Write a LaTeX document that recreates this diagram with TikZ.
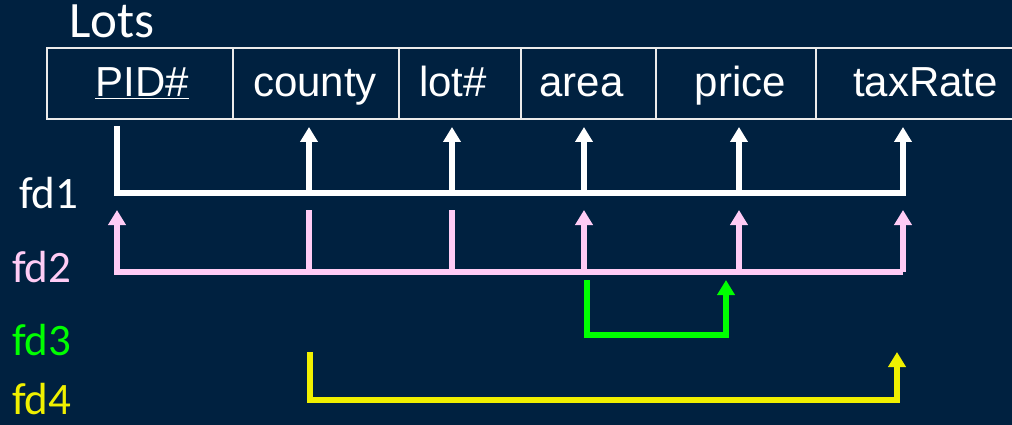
\documentclass[tikz,border=0pt]{standalone}
\usepackage{fontspec}
\setmainfont{Liberation Sans}
\newfontfamily\calfont{Carlito}
\usetikzlibrary{arrows.meta}
\definecolor{bg}{RGB}{0,33,64}
\definecolor{fdpink}{RGB}{255,204,245}
\definecolor{fdgreen}{RGB}{0,255,0}
\definecolor{fdyellow}{RGB}{240,240,0}
\begin{document}
\begin{tikzpicture}[x=1pt,y=-1pt,
  attr/.style={text=white,font=\fontsize{42}{42}\selectfont,anchor=base,inner sep=0pt},
  fdlabel/.style={font=\calfont\fontsize{45}{45}\selectfont,anchor=base west,inner sep=0pt},
  tblline/.style={draw=white!92!black,line width=2pt},
  fdline/.style={line width=5.5pt,line join=miter},
  fdarrow/.style={fdline,-{Triangle[width=17pt,length=15pt]}},
]
\useasboundingbox (0,0) rectangle (1012,425);
\clip (0,0) rectangle (1012,425);
\fill[bg] (0,0) rectangle (1012,425);

% title
\node[font=\calfont\fontsize{51}{51}\selectfont,text=white,anchor=base west,inner sep=0pt] (title) at (69,38) {Lots};

% table
\draw[tblline] (1016,48) -- (47,48) -- (47,119) -- (1016,119);
\foreach \x in {233,399,521,656,816} \draw[tblline] (\x,48) -- (\x,119);

% attributes
\node[attr] (pid) at (142,97) {\underline{PID\#}};
\node[attr] (county) at (315,97) {county};
\node[attr] (lot) at (453,97) {lot\#};
\node[attr] (area) at (581.5,97) {area};
\node[attr] (price) at (740.5,97) {price};
\node[attr] (tax) at (925.5,97) {taxRate};

% fd labels
\node[fdlabel,text=white] (l1) at (19,208) {fd1};
\node[fdlabel,text=fdpink] (l2) at (12,282) {fd2};
\node[fdlabel,text=fdgreen] (l3) at (12,355) {fd3};
\node[fdlabel,text=fdyellow] (l4) at (12,414) {fd4};

% coordinates
\coordinate (a1s) at (117,126);
\coordinate (a1pid) at (117,193);
\coordinate (a1county) at (309,193);
\coordinate (a1lot) at (452,193);
\coordinate (a1area) at (584,193);
\coordinate (a1price) at (739,193);
\coordinate (a1tax) at (903,193);
\coordinate (t1county) at (309,127);
\coordinate (t1lot) at (452,127);
\coordinate (t1area) at (584,127);
\coordinate (t1price) at (739,127);
\coordinate (t1tax) at (903,127);

\coordinate (a2pid) at (117,272);
\coordinate (a2county) at (309,272);
\coordinate (a2lot) at (452,272);
\coordinate (a2area) at (584,272);
\coordinate (a2price) at (739,272);
\coordinate (a2tax) at (903,272);
\coordinate (t2pid) at (117,210);
\coordinate (s2county) at (309,210);
\coordinate (s2lot) at (452,210);
\coordinate (t2area) at (584,210);
\coordinate (t2price) at (739,210);
\coordinate (t2tax) at (903,210);

\coordinate (s3) at (587,280);
\coordinate (b3l) at (587,335);
\coordinate (b3r) at (726,335);
\coordinate (t3) at (726,280);

\coordinate (s4) at (310,352);
\coordinate (b4l) at (310,400);
\coordinate (b4r) at (897,400);
\coordinate (t4) at (897,352);

% fd1
\draw[fdarrow,white] (a1s) -- (a1pid) -- (a1tax) -- (t1tax);
\foreach \n in {county,lot,area,price} \draw[fdarrow,white] (a1\n) -- (t1\n);

% fd2
\draw[fdarrow,fdpink] (a2tax) -- (a2pid) -- (t2pid);
\draw[fdline,fdpink] (s2county) -- (a2county);
\draw[fdline,fdpink] (s2lot) -- (a2lot);
\foreach \n in {area,price,tax} \draw[fdarrow,fdpink] (a2\n) -- (t2\n);

% fd3
\draw[fdarrow,fdgreen] (s3) -- (b3l) -- (b3r) -- (t3);

% fd4
\draw[fdarrow,fdyellow] (s4) -- (b4l) -- (b4r) -- (t4);
\end{tikzpicture}
\end{document}
